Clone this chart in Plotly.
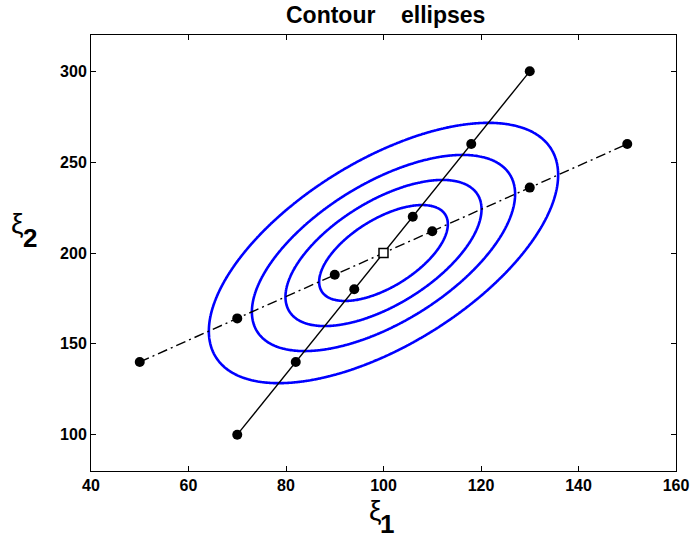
import numpy as np
import plotly.graph_objects as go

# distribution parameters
mean = [100, 200]
cov = [[400, 480], [480, 1600]]
levels = [0.5e-4, 1.0e-4, 1.5e-4, 2.0e-4]

# regression of xi2 on xi1 (dash-dot)
dash_x = [50, 70, 90, 110, 130, 150]
dash_y = [140, 164, 188, 212, 236, 260]
# regression of xi1 on xi2 (solid)
solid_x = [70, 82, 94, 106, 118, 130]
solid_y = [100, 140, 180, 220, 260, 300]

x_ticks = [40, 60, 80, 100, 120, 140, 160]
y_ticks = [100, 150, 200, 250, 300]

# density grid
gx = np.linspace(40, 160, 481)
gy = np.linspace(80, 320, 721)
X, Y = np.meshgrid(gx, gy)
S = np.array(cov, dtype=float)
Si = np.linalg.inv(S)
dx = X - mean[0]
dy = Y - mean[1]
q = Si[0, 0] * dx * dx + 2 * Si[0, 1] * dx * dy + Si[1, 1] * dy * dy
Z = np.exp(-0.5 * q) / (2 * np.pi * np.sqrt(np.linalg.det(S)))

FONT = "Liberation Sans, Arial, Helvetica"

fig = go.Figure()
fig.add_trace(go.Contour(
    x=gx, y=gy, z=Z,
    contours=dict(start=levels[0], end=levels[-1], size=levels[1] - levels[0],
                  coloring="lines", showlabels=False),
    colorscale=[[0, "#0000ff"], [1, "#0000ff"]],
    showscale=False, line=dict(width=2.6, smoothing=1.0), hoverinfo="skip",
))
fig.add_trace(go.Scatter(
    x=dash_x, y=dash_y, mode="lines+markers",
    line=dict(color="black", width=1.4, dash="10px,4px,2px,4px"),
    marker=dict(symbol="circle", size=10, color="black"),
    showlegend=False,
))
fig.add_trace(go.Scatter(
    x=solid_x, y=solid_y, mode="lines+markers",
    line=dict(color="black", width=1.4),
    marker=dict(symbol="circle", size=10, color="black"),
    showlegend=False,
))
fig.add_trace(go.Scatter(
    x=[mean[0]], y=[mean[1]], mode="markers",
    marker=dict(symbol="square", size=9, color="white", line=dict(color="black", width=1.5)),
    showlegend=False,
))

axis_common = dict(
    showgrid=False, zeroline=False, showline=True, linecolor="black", linewidth=1,
    mirror="ticks", ticks="inside", ticklen=5, tickcolor="black", tickwidth=1,
    automargin=False,
    tickfont=dict(family=FONT, size=16, color="black", weight="bold"),
)
fig.update_xaxes(range=[40, 160], tickvals=x_ticks, **axis_common)
fig.update_yaxes(range=[80, 320], tickvals=y_ticks, **axis_common)


def px_x(p):
    return (p - 91) / 585


def px_y(p):
    return (471 - p) / 436


fig.update_layout(
    template="none",
    width=690, height=539,
    margin=dict(l=91, r=14, t=35, b=68, pad=0),
    plot_bgcolor="white", paper_bgcolor="white",
    showlegend=False,
    annotations=[
        dict(text="<b>Contour\u00a0\u00a0\u00a0\u00a0ellipses</b>", xref="paper", yref="paper",
             x=px_x(385), y=px_y(15), xanchor="center", yanchor="middle", showarrow=False,
             font=dict(family=FONT, size=23, color="black")),
        dict(text="ξ", xref="paper", yref="paper", x=px_x(375), y=px_y(510),
             xanchor="center", yanchor="middle", showarrow=False,
             font=dict(family=FONT, size=28, color="black")),
        dict(text="<b>1</b>", xref="paper", yref="paper", x=px_x(387), y=px_y(524),
             xanchor="center", yanchor="middle", showarrow=False,
             font=dict(family=FONT, size=26, color="black")),
        dict(text="ξ", xref="paper", yref="paper", x=px_x(17), y=px_y(223),
             xanchor="center", yanchor="middle", showarrow=False,
             font=dict(family=FONT, size=28, color="black")),
        dict(text="<b>2</b>", xref="paper", yref="paper", x=px_x(30), y=px_y(238),
             xanchor="center", yanchor="middle", showarrow=False,
             font=dict(family=FONT, size=26, color="black")),
    ],
)

fig.write_html("out.html", config={"displayModeBar": False},
               post_script="document.body.style.margin='0';")
